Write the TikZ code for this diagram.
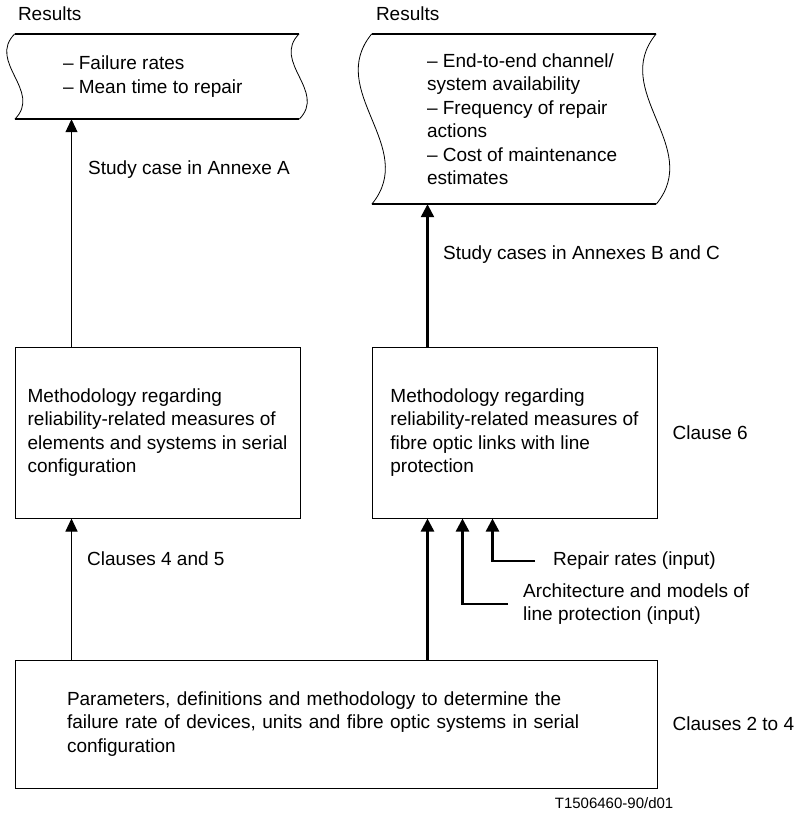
\documentclass[tikz,border=0pt]{standalone}
\usepackage{fontspec}
\setmainfont{Liberation Sans}
\usetikzlibrary{positioning, arrows.meta, calc}

\begin{document}
\begin{tikzpicture}[
    x=1pt, y=-1pt,
    font=\fontsize{19}{23.5}\selectfont,
    % Styles
    doc/.style={rectangle, inner sep=0pt, minimum width=284pt},
    docedge/.style={line width=1.7pt},
    docwave/.style={line width=0.8pt},
    items/.style={align=left, inner sep=0pt, anchor=west},
    method/.style={
        draw, line width=1pt, rectangle, align=left, inner ysep=0pt, minimum width=285pt, minimum height=171pt
    },
    tag/.style={inner sep=0pt},
    thinarrow/.style={-{Triangle[length=13pt, width=12pt]}, line width=1pt},
    thickarrow/.style={-{Triangle[length=13pt, width=13pt]}, line width=2.4pt}
]
    \useasboundingbox (0,0) rectangle (798,814);

    % --- RESULTS (documents) ---
    \node[doc, minimum height=85pt] (resA) at (157,76.5) {};
    \node[doc, minimum height=170pt] (resBC) at (514,119) {};

    \draw[docedge] (resA.north west) -- (resA.north east);
    \draw[docedge] (resA.south west) -- (resA.south east);
    \draw[docedge] (resBC.north west) -- (resBC.north east);
    \draw[docedge] (resBC.south west) -- (resBC.south east);
    \foreach \side in {west, east} {
        \draw[docwave] (resA.north \side) .. controls ($(resA.north \side)+(-28,28)$) and ($(resA.south \side)+(28,-28)$) .. (resA.south \side);
        \draw[docwave] (resBC.north \side) .. controls ($(resBC.north \side)+(-47,57)$) and ($(resBC.south \side)+(47,-57)$) .. (resBC.south \side);
    }

    \node[tag, above right=13pt and 3pt of resA.north west] (resAhead) {Results};
    \node[tag, above right=13pt and 4pt of resBC.north west] (resBChead) {Results};

    \node[items, right=48pt of resA.west] (resAlist) {– Failure rates\\– Mean time to repair};
    \node[items, right=55pt of resBC.west] (resBClist) {
        – End-to-end channel/\\
        system availability\\
        – Frequency of repair\\
        actions\\
        – Cost of maintenance\\
        estimates
    };

    % --- METHODOLOGY ---
    \node[method] (methA) at (157.5,432.5) {
        Methodology regarding\\
        reliability-related measures of\\
        elements and systems in serial\\
        configuration
    };
    \node[method] (methBC) at (514.5,432.5) {
        Methodology regarding\\
        reliability-related measures of\\
        fibre optic links with line\\
        protection
    };
    \node[tag, right=15pt of methBC] (clause6) {Clause 6};

    % --- PARAMETERS ---
    \node[method, text width=538pt, minimum width=642pt, minimum height=128pt] (params) at (336,724) {
        Parameters, definitions and methodology to determine the\\
        failure rate of devices, units and fibre optic systems in serial\\
        configuration
    };
    \node[tag, right=15pt of params] (clause24) {Clauses 2 to 4};
    \node[tag, font=\fontsize{15}{18}\selectfont, anchor=north east] (figid) at ([xshift=16pt, yshift=-9pt]params.south east) {T1506460-90/d01};

    % --- INPUTS ---
    \node[tag, anchor=west] (repair) at (553,561) {Repair rates (input)};
    \node[tag, anchor=west, align=left] (archi) at (523,604) {Architecture and models of\\line protection (input)};

    % --- CONNECTIONS ---
    \coordinate (tapA) at ([xshift=57pt]methA.south west);
    \coordinate (outA) at ([xshift=57pt]methA.north west);
    \coordinate (tapBC) at ([xshift=56pt]methBC.south west);
    \coordinate (outBC) at ([xshift=56pt]methBC.north west);

    \draw[thinarrow] (tapA |- params.north) -- (tapA);
    \draw[thinarrow] (outA) -- (outA |- resA.south);
    \draw[thickarrow] (tapBC |- params.north) -- (tapBC);
    \draw[thickarrow] (outBC) -- (outBC |- resBC.south);

    \draw[thickarrow] ([xshift=-18pt]repair.west) -| ([xshift=121pt]methBC.south west);
    \draw[thickarrow] ([xshift=-15pt]archi.west) -| ([xshift=91pt]methBC.south west);

    % Arrow labels
    \node[tag, anchor=west] (studyA) at (88,170) {Study case in Annexe A};
    \node[tag, anchor=west] (studyBC) at (443,255) {Study cases in Annexes B and C};
    \node[tag, anchor=west] (cl45) at (87,559) {Clauses 4 and 5};

\end{tikzpicture}
\end{document}
